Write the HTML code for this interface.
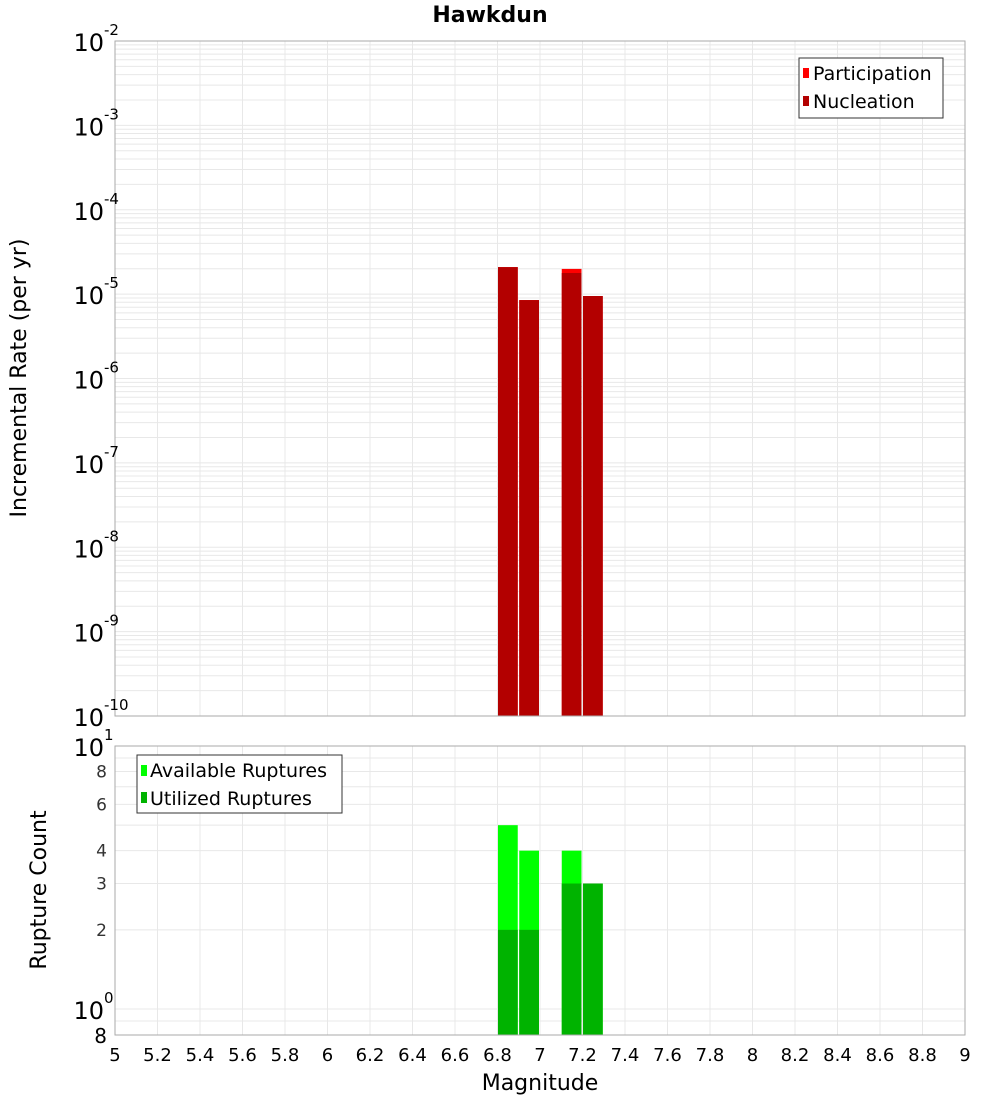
<!DOCTYPE html>
<html><head><meta charset="utf-8"><style>
body{margin:0;background:#fff;width:1000px;height:1100px;overflow:hidden}
svg{font-family:"DejaVu Sans","Liberation Sans",sans-serif}
</style></head><body>
<svg id="c" width="1000" height="1100" xmlns="http://www.w3.org/2000/svg">
<text x="490" y="22" text-anchor="middle" font-size="22" font-weight="bold">Hawkdun</text>
</svg>
<script>
const mags=[6.85,6.95,7.15,7.25];
const participation=[2.09e-5,8.5e-6,1.99e-5,9.5e-6];
const nucleation=[2.09e-5,8.5e-6,1.78e-5,9.5e-6];
const available=[5,4,4,3];
const utilized=[2,2,3,3];
const xTicks=[5,5.2,5.4,5.6,5.8,6,6.2,6.4,6.6,6.8,7,7.2,7.4,7.6,7.8,8,8.2,8.4,8.6,8.8,9];
const topExps=[-2,-3,-4,-5,-6,-7,-8,-9,-10];
const botTicks=[2,3,4,6,8];

const NS="http://www.w3.org/2000/svg";
const svg=document.getElementById('c');
function el(t,a,p){const e=document.createElementNS(NS,t);for(const k in a)e.setAttribute(k,a[k]);(p||svg).appendChild(e);return e;}
const X0=115,X1=965;
const x=m=>X0+(m-5)/4*(X1-X0);
const T0=41,T1=716;
const yT=v=>T0+(-2-Math.log10(v))*(T1-T0)/8;
const B0=746,B1=1035,BD=263;
const yB=v=>B0+(1-Math.log10(v))*BD;

const gt=el('g',{});


for(let e=-10;e<-2;e++)for(let k=1;k<10;k++){const y=yT(k*Math.pow(10,e));el('line',{x1:X0,x2:X1,y1:y,y2:y,stroke:'#e8e8e8','stroke-width':1},gt);}
xTicks.forEach(t=>{el('line',{x1:x(t),x2:x(t),y1:T0,y2:T1,stroke:'#e8e8e8'},gt);el('line',{x1:x(t),x2:x(t),y1:B0,y2:B1,stroke:'#e8e8e8'},gt);});
for(let v=1;v<=10;v++){const y=yB(v);if(y<=B1)el('line',{x1:X0,x2:X1,y1:y,y2:y,stroke:'#e8e8e8'},gt);}
el('line',{x1:X0,x2:X1,y1:yB(0.9),y2:yB(0.9),stroke:'#e8e8e8'},gt);

mags.forEach((m,i)=>{
  const xa=x(m-0.05)+0.5,w=x(m+0.05)-x(m-0.05)-1.5;
  const p=el('rect',{x:xa,y:yT(participation[i]),width:w,height:T1-yT(participation[i]),fill:'#ff0000'});
  
  
  const n=el('rect',{x:xa,y:yT(nucleation[i]),width:w,height:T1-yT(nucleation[i]),fill:'#b30000'});
  
  
  const a=el('rect',{x:xa,y:yB(available[i]),width:w,height:B1-yB(available[i]),fill:'#00ff00'});
  
  
  const u=el('rect',{x:xa,y:yB(utilized[i]),width:w,height:B1-yB(utilized[i]),fill:'#00b300'});
  
  
});
el('rect',{x:X0,y:T0,width:X1-X0,height:T1-T0,fill:'none',stroke:'#aaa'});
el('rect',{x:X0,y:B0,width:X1-X0,height:B1-B0,fill:'none',stroke:'#aaa'});

topExps.forEach(e=>{
  const t=el('text',{x:104,y:yT(Math.pow(10,e))+10,'text-anchor':'end','font-size':24});
  
  
  t.textContent='10';
  const s=el('text',{x:104,y:yT(Math.pow(10,e))-6,'font-size':15});
  
  
  s.textContent=String(e);
});
botTicks.forEach(v=>{const t=el('text',{x:107,y:yB(v)+6,'text-anchor':'end','font-size':17,fill:'#333'});


t.textContent=v;});
[[10,'1'],[1,'0']].forEach(([v,ex])=>{const t=el('text',{x:104,y:yB(v)+10,'text-anchor':'end','font-size':24});


t.textContent='10';
const s=el('text',{x:104,y:yB(v)-6,'font-size':15});


s.textContent=ex;});
const e8=el('text',{x:107,y:B1+8,'text-anchor':'end','font-size':20});


e8.textContent='8';
xTicks.forEach(t=>{const tx=el('text',{x:x(t),y:1061,'text-anchor':'middle','font-size':18});


tx.textContent=String(t);});
</script>
<svg style="position:absolute;left:0;top:0" width="1000" height="1100">
<text x="540" y="1090" text-anchor="middle" font-size="22">Magnitude</text>
<text transform="translate(26,378) rotate(-90)" text-anchor="middle" font-size="22">Incremental Rate (per yr)</text>
<text transform="translate(46,890) rotate(-90)" text-anchor="middle" font-size="22">Rupture Count</text>
<g>
<rect x="799" y="58" width="144" height="60" fill="#fff" stroke="#333"/>
<rect x="803" y="68" width="6" height="10" fill="#ff0000"/>
<text x="813" y="80" font-size="19">Participation</text>
<rect x="803" y="96" width="6" height="10" fill="#b30000"/>
<text x="813" y="108" font-size="19">Nucleation</text>
</g>
<g>
<rect x="137" y="755" width="205" height="58" fill="#fff" stroke="#333"/>
<rect x="141" y="765" width="6" height="11" fill="#00ff00"/>
<text x="150" y="777" font-size="19">Available Ruptures</text>
<rect x="141" y="792" width="6" height="11" fill="#00b300"/>
<text x="150" y="805" font-size="19">Utilized Ruptures</text>
</g>
</svg>
</body></html>
